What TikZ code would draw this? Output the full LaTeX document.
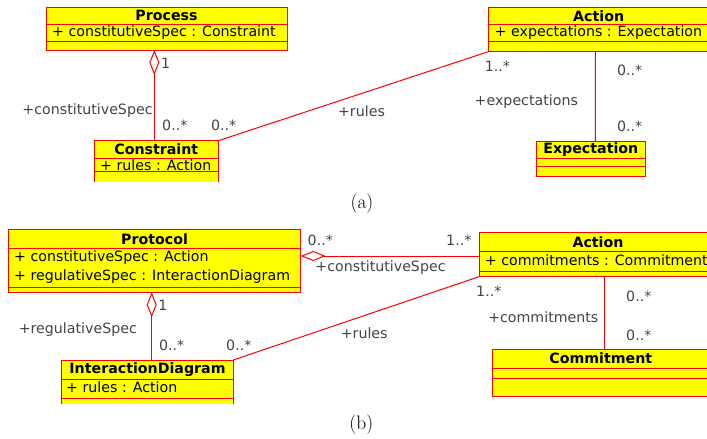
\documentclass[tikz,border=0pt]{standalone}
\usepackage{fontspec}
\newfontfamily\umlfont{DejaVu Sans}
\usetikzlibrary{arrows.meta}
\definecolor{umlyellow}{RGB}{255,255,0}
\definecolor{umlred}{RGB}{255,0,0}
\definecolor{lblgray}{RGB}{68,68,68}
\begin{document}
\begin{tikzpicture}[x=1pt,y=-1pt,
 box/.style={draw=umlred, fill=umlyellow, line width=1pt, inner sep=0pt, outer sep=0pt},
 sepline/.style={draw=umlred, line width=1pt},
 ctitle/.style={font=\umlfont\bfseries\fontsize{14.2}{17}\selectfont, inner sep=0pt, text=black},
 cattr/.style={font=\umlfont\fontsize{14.2}{17}\selectfont, inner sep=0pt, anchor=west, text=black},
 lbl/.style={font=\umlfont\fontsize{14.2}{17}\selectfont, inner sep=0pt, text=lblgray},
 assoc/.style={draw=umlred, line width=1pt},
 agg/.style={assoc, {Diamond[open, length=25pt, width=10pt, line width=1pt]}-},
 capt/.style={font=\fontsize{19.5}{22}\selectfont, inner sep=0pt}
]
\useasboundingbox (0,0) rectangle (707,439);
\clip (0,0) rectangle (707,439);

% ---------- (a) ----------
\node[box, minimum width=241pt, minimum height=42.7pt] (process) at (166.5,28.65) {};
\draw[sepline] (46,24.3) -- (287,24.3);
\draw[sepline] (46,41.7) -- (287,41.7);
\node[ctitle] (processT) at (166.5,15.8) {Process};
\node[cattr] (processA) at (52,33) {+ constitutiveSpec : Constraint};

\node[box, minimum width=220.7pt, minimum height=44.4pt] (actiona) at (598.65,29.5) {};
\draw[sepline] (488.3,24.3) -- (709,24.3);
\draw[sepline] (488.3,41.7) -- (709,41.7);
\node[ctitle] (actionaT) at (598.7,15.8) {Action};
\node[cattr] (actionaA) at (494.5,33) {+ expectations : Expectation};

\node[box, minimum width=109.7pt, minimum height=34.3pt] (expectation) at (590.85,158.85) {};
\draw[sepline] (536,158.3) -- (645.7,158.3);
\draw[sepline] (536,166.7) -- (645.7,166.7);
\node[ctitle] (expectationT) at (590.8,150) {Expectation};

\begin{scope}
\clip (0,0) rectangle (707,181.7);
\node[box, minimum width=124pt, minimum height=44.3pt] (constraint) at (156.3,162.85) {};
\draw[sepline] (94.3,158.3) -- (218.3,158.3);
\draw[sepline] (94.3,171.7) -- (218.3,171.7);
\end{scope}
\node[ctitle] (constraintT) at (156.3,149.5) {Constraint};
\node[cattr] (constraintA) at (100,165) {+ rules : Action};

\draw[agg] ([xshift=-12.2pt]process.south) -- ([xshift=-2pt]constraint.north);
\draw[assoc] (constraint.north east) -- (actiona.south west);
\draw[assoc] ([xshift=-3.35pt]actiona.south) -- ([xshift=4.45pt]expectation.north);

\node[lbl] (la1) at (165.7,63.3) {1};
\node[lbl] (la2) at (87.5,111) {+constitutiveSpec};
\node[lbl] (la3) at (174.8,125.7) {0..*};
\node[lbl] (la4) at (223.7,125) {0..*};
\node[lbl] (la5) at (361.5,111.5) {+rules};
\node[lbl] (la6) at (497.5,66) {1..*};
\node[lbl] (la7) at (526.3,101.7) {+expectations};
\node[lbl] (la8) at (629.7,70) {0..*};
\node[lbl] (la9) at (629.7,126) {0..*};
\node[capt] (capa) at (362,204) {(a)};

% ---------- (b) ----------
\node[box, minimum width=292.4pt, minimum height=62.8pt] (protocol) at (154.5,260.9) {};
\draw[sepline] (8.3,248.5) -- (300.7,248.5);
\draw[sepline] (8.3,287.5) -- (300.7,287.5);
\node[ctitle] (protocolT) at (154.5,239) {Protocol};
\node[cattr] (protocolA1) at (14,257.7) {+ constitutiveSpec : Action};
\node[cattr] (protocolA2) at (14,276.7) {+ regulativeSpec : InteractionDiagram};

\node[box, minimum width=238pt, minimum height=44.7pt] (actionb) at (598,254.35) {};
\draw[sepline] (479,251.7) -- (717,251.7);
\draw[sepline] (479,271) -- (717,271);
\node[ctitle] (actionbT) at (598,242) {Action};
\node[cattr] (actionbA) at (484.7,260) {+ commitments : Commitment};

\node[box, minimum width=217pt, minimum height=47.7pt] (commitment) at (600.8,372.85) {};
\draw[sepline] (492.3,368.3) -- (709.3,368.3);
\draw[sepline] (492.3,378.3) -- (709.3,378.3);
\node[ctitle] (commitmentT) at (600.8,358.7) {Commitment};

\begin{scope}
\clip (0,220) rectangle (707,403.3);
\node[box, minimum width=171.6pt, minimum height=48pt] (interaction) at (147.5,384) {};
\draw[sepline] (61.7,379.3) -- (233.3,379.3);
\draw[sepline] (61.7,398.3) -- (233.3,398.3);
\end{scope}
\node[ctitle] (interactionT) at (147.5,369.5) {InteractionDiagram};
\node[cattr] (interactionA) at (66,387.3) {+ rules : Action};

\draw[agg] ([yshift=4.9pt]protocol.east) -- ([yshift=-1.65pt]actionb.west);
\draw[agg] ([xshift=-2.8pt]protocol.south) -- ([xshift=4.2pt]interaction.north);
\draw[assoc] (interaction.north east) -- (actionb.south west);
\draw[assoc] ([xshift=6.3pt]actionb.south) -- ([xshift=3.5pt]commitment.north);

\node[lbl] (lb1) at (320.3,240.7) {0..*};
\node[lbl] (lb2) at (380.5,267.3) {+constitutiveSpec};
\node[lbl] (lb3) at (458.8,240.7) {1..*};
\node[lbl] (lb4) at (488.8,291) {1..*};
\node[lbl] (lb5) at (543.3,317.3) {+commitments};
\node[lbl] (lb6) at (638.8,296.7) {0..*};
\node[lbl] (lb7) at (638.8,335) {0..*};
\node[lbl] (lb8) at (364.2,333.3) {+rules};
\node[lbl] (lb9) at (163,305) {1};
\node[lbl] (lb10) at (77.8,330) {+regulativeSpec};
\node[lbl] (lb11) at (171.7,345) {0..*};
\node[lbl] (lb12) at (238.8,345) {0..*};
\node[capt] (capb) at (361.3,425) {(b)};
\end{tikzpicture}
\end{document}
